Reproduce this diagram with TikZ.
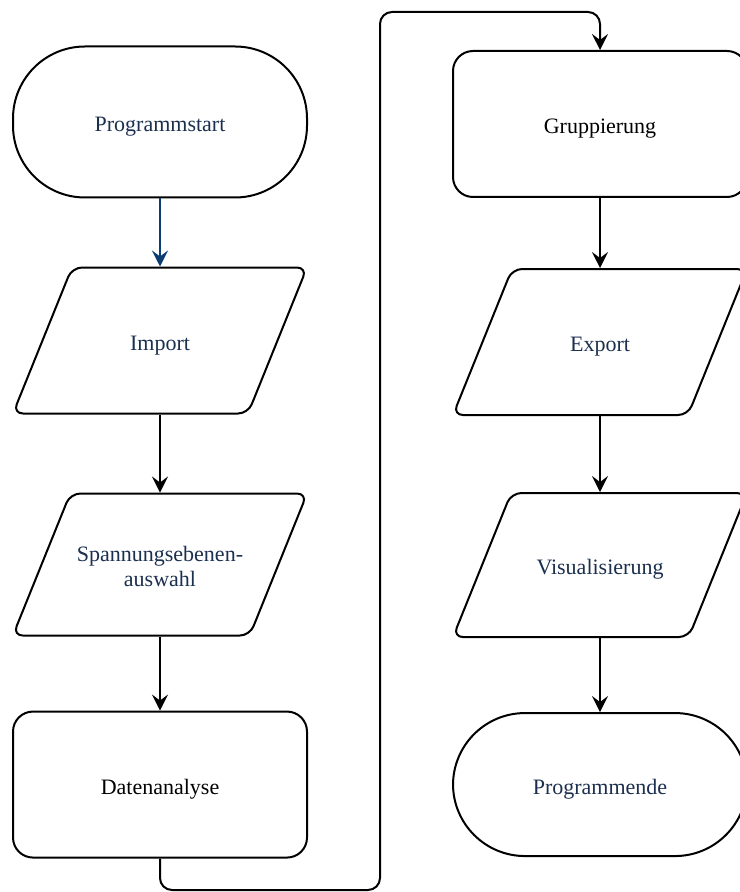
\documentclass[tikz,border=0pt]{standalone}
\usepackage{fontspec}
\setmainfont{Liberation Serif}
\usetikzlibrary{shapes.geometric, arrows.meta, positioning}
\definecolor{labelnavy}{HTML}{1B2F4E}
\definecolor{linknavy}{HTML}{0B3D72}

\begin{document}
\begin{tikzpicture}[
    x=0.5pt, y=-0.5pt,
    node distance=39pt,
    base/.style={draw, line width=1pt, minimum width=147pt, minimum height=73pt, align=center, text height=9.5pt, text depth=0pt, font=\fontsize{11}{12.5}\selectfont, text=labelnavy},
    terminal/.style={base, rectangle, rounded corners=36pt},
    process/.style={base, rectangle, rounded corners=10pt, text=black},
    io/.style={base, trapezium, trapezium left angle=68, trapezium right angle=112, trapezium stretches body, inner ysep=31.75pt, rounded corners=5pt},
    arrow/.style={-{Stealth[length=8pt, width=8pt, inset=3pt]}, line width=1pt},
]
\useasboundingbox (0,0) rectangle (739,892);

% Left column
\node[terminal, minimum height=75.5pt] (start) at (160,122) {Programmstart};
\node[io, below=34pt of start] (import) {Import};
\node[io, below=39pt of import, minimum height=71pt, inner ysep=24.5pt, text height=22pt] (select) {Spannungsebenen-\\auswahl};
\node[process, below=37pt of select] (analysis) {Datenanalyse};

% Right column
\node[process] (grouping) at (600,124) {Gruppierung};
\node[io, below=35pt of grouping] (export) {Export};
\node[io, below=38pt of export, minimum height=72pt, inner ysep=31.25pt] (visual) {Visualisierung};
\node[terminal, below=37pt of visual, minimum height=71.5pt] (finish) {Programmende};

% Connections
\draw[arrow, linknavy] (start.south) -- (import.north);
\draw[arrow] (import.south) -- (select.north);
\draw[arrow] (select.south) -- (analysis.north);

\coordinate (lowbend) at (380,890);
\coordinate (highbend) at (380,12);
\draw[arrow, rounded corners=6pt] (analysis.south) |- (lowbend) -- (highbend) -| (grouping.north);

\draw[arrow] (grouping.south) -- (export.north);
\draw[arrow] (export.south) -- (visual.north);
\draw[arrow] (visual.south) -- (finish.north);

\end{tikzpicture}
\end{document}
